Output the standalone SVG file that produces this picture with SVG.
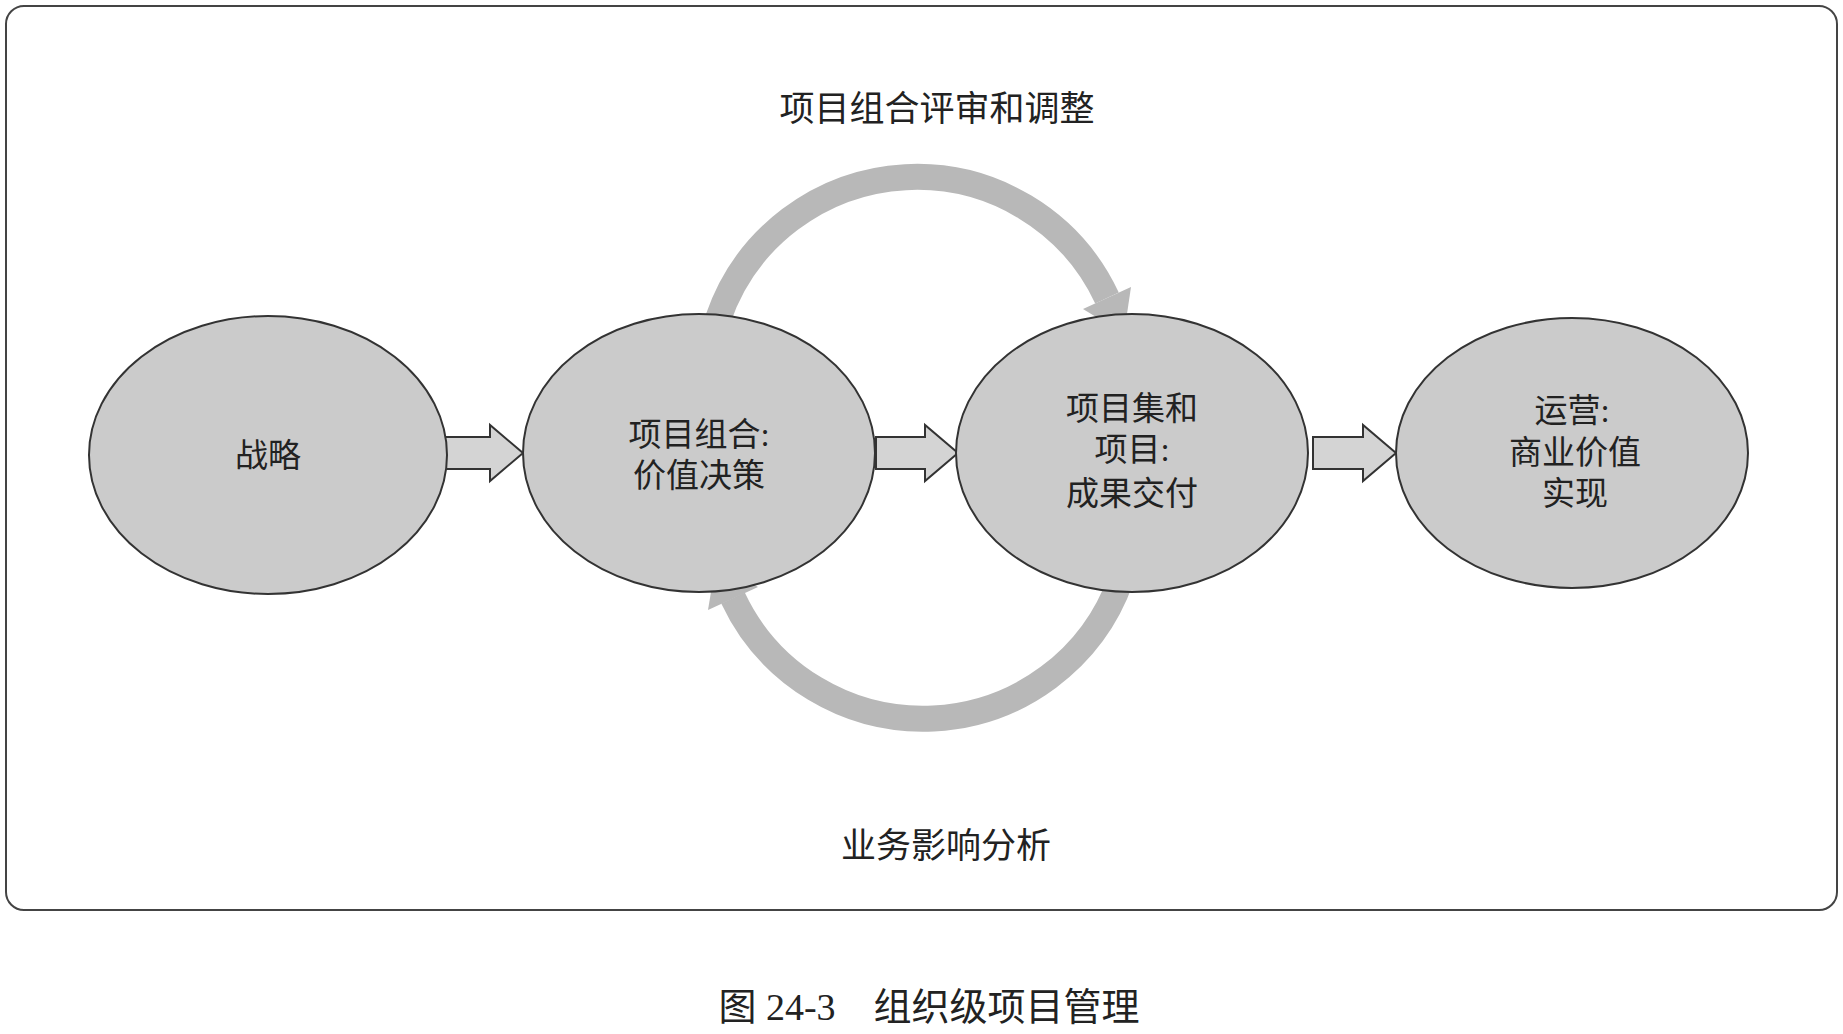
<svg xmlns="http://www.w3.org/2000/svg" width="1843" height="1034" viewBox="0 0 1843 1034">
<style>
.t{font-family:"Liberation Serif","Noto Sans CJK SC",serif;fill:#222;text-anchor:middle}
.n{font-size:33px}
.node ellipse{fill:#cbcbcb;stroke:#333;stroke-width:2}
.blk{fill:#d4d4d4;stroke:#333;stroke-width:2}
.arc{fill:none;stroke:#b8b8b8;stroke-width:26}
.hd{fill:#b8b8b8}
</style>
<rect width="1843" height="1034" fill="#fff"/>
<rect x="6" y="6" width="1831" height="904" rx="18" fill="none" stroke="#444" stroke-width="2"/>
<text class="t" x="937" y="121" font-size="35">项目组合评审和调整</text>
<text class="t" x="946" y="858" font-size="35">业务影响分析</text>
<text class="t" x="929" y="1020" font-size="38">图 24-3　组织级项目管理</text>
<g id="connectors">
<path class="arc" d="M718 319 A210 210 0 0 1 1107 298"/>
<polygon class="hd" points="1131,287 1083,309 1124,334"/>
<path class="arc" d="M1121 579 A210 210 0 0 1 733 598"/>
<polygon class="hd" points="708,610 758,587 716,562"/>
<polygon class="blk" points="441,437 490,437 490,425 523,453 490,481 490,469 441,469"/>
<polygon class="blk" points="876,437 925,437 925,425 958,453 925,481 925,469 876,469"/>
<polygon class="blk" points="1313,437 1363,437 1363,425 1396,453 1363,481 1363,469 1313,469"/>
</g>
<g id="n1" class="node"><ellipse cx="268" cy="455" rx="179" ry="139"/><text class="t n" x="268" y="467">战略</text></g>
<g id="n2" class="node"><ellipse cx="699" cy="453" rx="176" ry="139"/><text class="t n" x="699" y="446">项目组合:</text><text class="t n" x="699" y="487">价值决策</text></g>
<g id="n3" class="node"><ellipse cx="1132" cy="453" rx="176" ry="139"/><text class="t n" x="1132" y="420">项目集和</text><text class="t n" x="1132" y="461">项目:</text><text class="t n" x="1132" y="505">成果交付</text></g>
<g id="n4" class="node"><ellipse cx="1572" cy="453" rx="176" ry="135"/><text class="t n" x="1572" y="422">运营:</text><text class="t n" x="1575" y="464">商业价值</text><text class="t n" x="1575" y="505">实现</text></g>
</svg>
